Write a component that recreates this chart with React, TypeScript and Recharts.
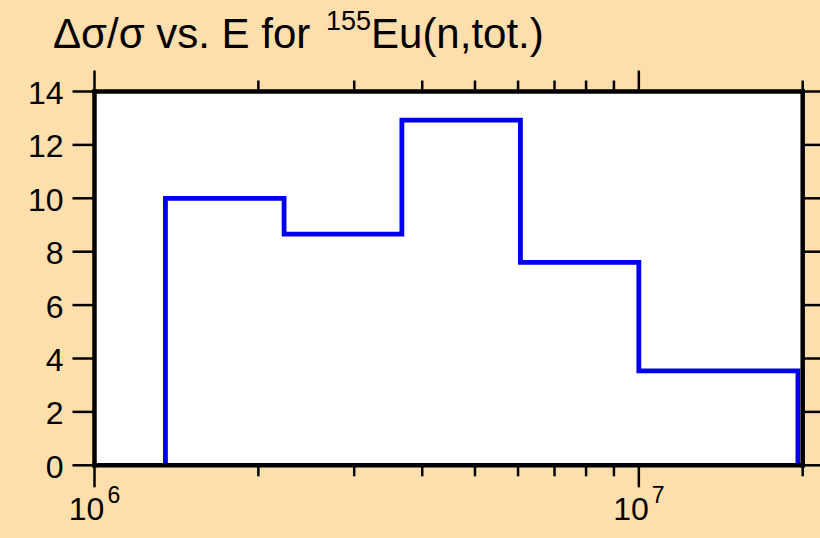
import { CartesianGrid, Line, LineChart, XAxis, YAxis } from "recharts";

const FONT = "'Liberation Sans', Arial, Helvetica, sans-serif";
const BG = "#FDDEAD";

// energy bin edges (eV) and the relative uncertainty (%) in each bin
const binEdges = [1.35e6, 2.23e6, 3.67e6, 6.06e6, 1.0e7, 1.96e7];
const relErrors = [10.0, 8.66, 12.93, 7.6, 3.54];

const yTicks = [0, 2, 4, 6, 8, 10, 12, 14];
const majorXTicks = [1e6, 1e7];
const minorXTicks = [2e6, 3e6, 4e6, 5e6, 6e6, 7e6, 8e6, 9e6, 2e7];

// histogram outline: up from zero at the first edge, one step per bin, back to zero at the end
const data = [
    { e: binEdges[0], v: 0 },
    ...relErrors.map((v, i) => ({ e: binEdges[i], v: v })),
    { e: binEdges[binEdges.length - 1], v: 0 },
];

const frame = { stroke: "#000", strokeWidth: 4.5, strokeLinecap: "square" as const };
const tickLine = { stroke: "#000", strokeWidth: 2.5 };

function Empty() {
    return <g />;
}

function PowerTick(props: any) {
    const { x, y, payload } = props;
    const exp = Math.round(Math.log10(payload.value));
    return (
        <text x={x} y={y + 30.5} textAnchor="middle" fontSize={32} fontFamily={FONT} fill="#000">
            10<tspan dx={3} dy={-16.5} fontSize={23}>{exp}</tspan>
        </text>
    );
}

function NumTick(props: any) {
    const { x, y, payload } = props;
    return (
        <text x={x - 7} y={y + 12.5} textAnchor="end" fontSize={32} fontFamily={FONT} fill="#000">
            {payload.value}
        </text>
    );
}

export default function App() {
    const xDomain = [1e6, 2e7];
    const yDomain = [0, 14];
    return (
        <div style={{ position: "relative", width: 820, height: 538, background: BG }}>
            <style>{"body{margin:0}"}</style>
            <LineChart
                width={820}
                height={538}
                data={data}
                margin={{ top: 89.5, right: 16.3, bottom: 70.7, left: 93.5 }}
            >
                <CartesianGrid fill="#fff" stroke="none" horizontal={false} vertical={false} />
                <XAxis
                    dataKey="e" type="number" scale="log" domain={xDomain} allowDataOverflow
                    ticks={majorXTicks} interval={0} height={1} tickSize={22}
                    axisLine={frame} tickLine={tickLine} tick={<PowerTick />}
                />
                <XAxis
                    xAxisId="minB" dataKey="e" type="number" scale="log" domain={xDomain} allowDataOverflow
                    ticks={minorXTicks} interval={0} height={1} tickSize={10}
                    axisLine={false} tickLine={tickLine} tick={<Empty />}
                />
                <XAxis
                    xAxisId="majT" orientation="top" dataKey="e" type="number" scale="log" domain={xDomain} allowDataOverflow
                    ticks={majorXTicks} interval={0} height={1} tickSize={21}
                    axisLine={frame} tickLine={tickLine} tick={<Empty />}
                />
                <XAxis
                    xAxisId="minT" orientation="top" dataKey="e" type="number" scale="log" domain={xDomain} allowDataOverflow
                    ticks={minorXTicks} interval={0} height={1} tickSize={10}
                    axisLine={false} tickLine={tickLine} tick={<Empty />}
                />
                <YAxis
                    type="number" domain={yDomain} allowDataOverflow ticks={yTicks} interval={0}
                    width={1} tickSize={22} axisLine={frame} tickLine={tickLine} tick={<NumTick />}
                />
                <YAxis
                    yAxisId="r" orientation="right" type="number" domain={yDomain} allowDataOverflow ticks={yTicks} interval={0}
                    width={1} tickSize={22} axisLine={frame} tickLine={tickLine} tick={<Empty />}
                />
                <Line
                    type="stepAfter"
                    dataKey="v"
                    stroke="#0000EE"
                    strokeWidth={4.8}
                    strokeLinejoin="miter"
                    dot={false}
                    isAnimationActive={false}
                />
            </LineChart>
            <svg width={820} height={70} style={{ position: "absolute", left: 0, top: 0 }}>
                <text x={53} y={48} fontSize={42} fontFamily={FONT} fill="#000">
                    Δσ/σ vs. E for <tspan dx={4} dy={-18} fontSize={27}>155</tspan>
                    <tspan dy={18}>Eu(n,tot.)</tspan>
                </text>
            </svg>
        </div>
    );
}
